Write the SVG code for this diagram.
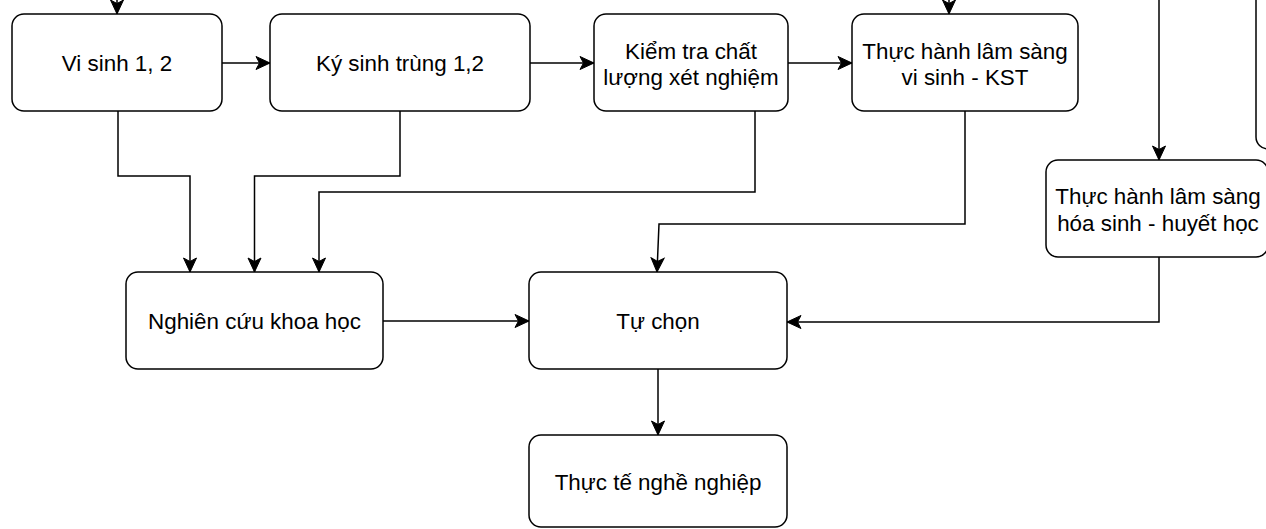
<svg xmlns="http://www.w3.org/2000/svg" width="1266" height="529" viewBox="0 0 1266 529">
<defs>
<style>
.box{fill:#ffffff;stroke:#000000;stroke-width:1.5}
.lbl{font-family:"Liberation Sans",Arial,Helvetica,sans-serif;font-size:22.4px;fill:#000000;text-anchor:middle}
.edge{fill:none;stroke:#000000;stroke-width:1.5;marker-end:url(#arr)}
</style>
<marker id="arr" markerUnits="userSpaceOnUse" markerWidth="16" markerHeight="16" viewBox="-15 -8 16 16" refX="0" refY="0" orient="auto">
<path d="M0,0 L-14,-6.5 L-10.5,0 L-14,6.5 Z" fill="#000000" stroke="#000000" stroke-width="1"/>
</marker>
</defs>
<rect x="0" y="0" width="1266" height="529" fill="#ffffff"/>
<g id="connectors">
<path class="edge" d="M117,-2 L117,14"/>
<path class="edge" d="M949,-2 L949,14"/>
<path class="edge" d="M1159,-2 L1159,160"/>
<path class="edge" d="M222,63 L270,63"/>
<path class="edge" d="M530,63 L594,63"/>
<path class="edge" d="M788,63 L852,63"/>
<path class="edge" d="M118,111 V176 H190 V272"/>
<path class="edge" d="M400,111 V176 H254.5 V272"/>
<path class="edge" d="M755,111 V192 H319 V272"/>
<path class="edge" d="M965,111 V224 H659 L657,272"/>
<path class="edge" d="M1159,257 V322 H787"/>
<path class="edge" d="M383,321 H529"/>
<path class="edge" d="M658,369 V435"/>
</g>
<g id="node-right-partial">
<rect class="box" x="1256" y="-100" width="100" height="249" rx="12" ry="12"/>
</g>
<g id="node-vi-sinh">
<rect class="box" x="12" y="14" width="210" height="97" rx="12" ry="12"/>
<text class="lbl" x="117" y="71">Vi sinh 1, 2</text>
</g>
<g id="node-ky-sinh-trung">
<rect class="box" x="270" y="14" width="260" height="97" rx="12" ry="12"/>
<text class="lbl" x="400" y="71">Ký sinh trùng 1,2</text>
</g>
<g id="node-kiem-tra">
<rect class="box" x="594" y="14" width="194" height="97" rx="12" ry="12"/>
<text class="lbl" x="691" y="58.5">Kiểm tra chất</text>
<text class="lbl" x="691" y="85">lượng xét nghiệm</text>
</g>
<g id="node-th-vi-sinh">
<rect class="box" x="852" y="14" width="226" height="97" rx="12" ry="12"/>
<text class="lbl" x="965" y="58.5">Thực hành lâm sàng</text>
<text class="lbl" x="965" y="85">vi sinh - KST</text>
</g>
<g id="node-th-hoa-sinh">
<rect class="box" x="1046" y="160" width="222" height="97" rx="12" ry="12"/>
<text class="lbl" x="1158" y="204">Thực hành lâm sàng</text>
<text class="lbl" x="1158" y="230.5">hóa sinh - huyết học</text>
</g>
<g id="node-nckh">
<rect class="box" x="126" y="272" width="257" height="97" rx="12" ry="12"/>
<text class="lbl" x="254.5" y="329">Nghiên cứu khoa học</text>
</g>
<g id="node-tu-chon">
<rect class="box" x="529" y="272" width="258" height="97" rx="12" ry="12"/>
<text class="lbl" x="658" y="329">Tự chọn</text>
</g>
<g id="node-thuc-te">
<rect class="box" x="529" y="435" width="258" height="92" rx="12" ry="12"/>
<text class="lbl" x="658" y="490">Thực tế nghề nghiệp</text>
</g>
</svg>
